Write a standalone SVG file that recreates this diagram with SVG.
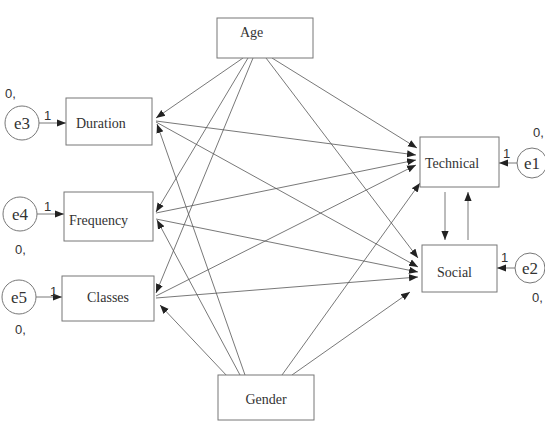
<svg xmlns="http://www.w3.org/2000/svg" width="545" height="423" viewBox="0 0 545 423">
<style>
.box{fill:#fff;stroke:#777;stroke-width:1}
.err{fill:#fff;stroke:#777;stroke-width:1}
.lbl{font-family:"Liberation Serif",serif;font-size:14px;fill:#333}
.el{font-family:"Liberation Serif",serif;font-size:17px;fill:#333}
.num{font-family:"Liberation Sans",sans-serif;font-size:13px;fill:#333}
.c line{stroke:#555;stroke-width:0.8;marker-end:url(#ah)}
</style>
<defs>
<marker id="ah" viewBox="0 0 10 10" refX="10" refY="5" markerWidth="9" markerHeight="9" markerUnits="userSpaceOnUse" orient="auto">
<path d="M0,1 L10,5 L0,9 Z" fill="#222"/>
</marker>
</defs>
<rect width="545" height="423" fill="#fff"/>
<g class="c" id="connectors">
<line x1="243" y1="58" x2="156" y2="118"/>
<line x1="248" y1="58" x2="156" y2="212"/>
<line x1="253" y1="58" x2="156" y2="293"/>
<line x1="272" y1="58" x2="417" y2="148"/>
<line x1="266" y1="58" x2="418" y2="258"/>
<line x1="245" y1="375" x2="157" y2="124"/>
<line x1="240" y1="375" x2="157" y2="220"/>
<line x1="228" y1="377" x2="160" y2="305"/>
<line x1="282" y1="375" x2="420" y2="183"/>
<line x1="292" y1="375" x2="410" y2="292"/>
<line x1="156" y1="121" x2="416" y2="155"/>
<line x1="156" y1="122" x2="418" y2="267"/>
<line x1="156" y1="213" x2="416" y2="160"/>
<line x1="156" y1="219" x2="418" y2="272"/>
<line x1="156" y1="296" x2="416" y2="165"/>
<line x1="156" y1="298" x2="418" y2="277"/>
<line x1="445" y1="192" x2="445" y2="240"/>
<line x1="468" y1="240" x2="468" y2="192"/>
<line x1="39" y1="123" x2="66" y2="123"/>
<line x1="37" y1="214" x2="64" y2="214"/>
<line x1="36" y1="297" x2="62" y2="297"/>
<line x1="517" y1="163" x2="499" y2="163"/>
<line x1="515" y1="268" x2="497" y2="268"/>
</g>
<g id="age"><rect class="box" x="217" y="18" width="96" height="40"/><text class="lbl" x="240" y="37">Age</text></g>
<g id="duration"><rect class="box" x="66" y="98" width="86" height="47"/><text class="lbl" x="76" y="128">Duration</text></g>
<g id="frequency"><rect class="box" x="64" y="192" width="89" height="49"/><text class="lbl" x="69" y="225">Frequency</text></g>
<g id="classes"><rect class="box" x="62" y="276" width="92" height="45"/><text class="lbl" x="87" y="302">Classes</text></g>
<g id="gender"><rect class="box" x="218" y="375" width="96" height="45"/><text class="lbl" x="266" y="404" text-anchor="middle">Gender</text></g>
<g id="technical"><rect class="box" x="420" y="137" width="79" height="50"/><text class="lbl" x="425" y="168">Technical</text></g>
<g id="social"><rect class="box" x="422" y="245" width="75" height="47"/><text class="lbl" x="437" y="277">Social</text></g>
<g id="e3"><circle class="err" cx="22" cy="123" r="17"/><text class="el" x="22" y="129" text-anchor="middle">e3</text><text class="num" x="5" y="98">0,</text><text class="num" x="44" y="120">1</text></g>
<g id="e4"><circle class="err" cx="20" cy="214" r="17"/><text class="el" x="20" y="220" text-anchor="middle">e4</text><text class="num" x="15" y="254">0,</text><text class="num" x="44" y="211">1</text></g>
<g id="e5"><circle class="err" cx="19" cy="297" r="17"/><text class="el" x="19" y="303" text-anchor="middle">e5</text><text class="num" x="15" y="334">0,</text><text class="num" x="50" y="296">1</text></g>
<g id="e1"><circle class="err" cx="532" cy="163" r="15"/><text class="el" x="532" y="169" text-anchor="middle">e1</text><text class="num" x="533" y="137">0,</text><text class="num" x="503" y="158">1</text></g>
<g id="e2"><circle class="err" cx="530" cy="268" r="15"/><text class="el" x="530" y="274" text-anchor="middle">e2</text><text class="num" x="532" y="302">0,</text><text class="num" x="501" y="262">1</text></g>
</svg>
